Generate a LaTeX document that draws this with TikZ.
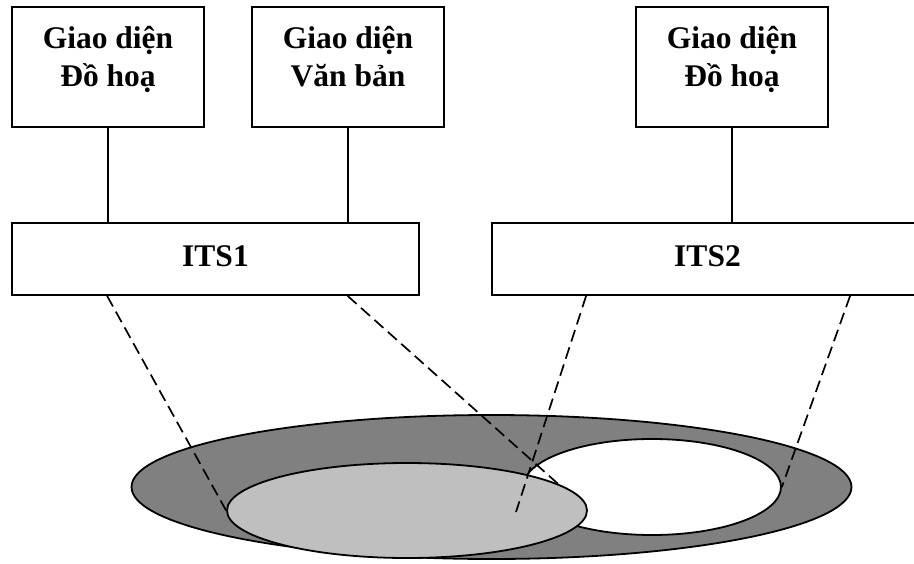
\documentclass[tikz,border=0pt]{standalone}
\usepackage{fontspec}
\setmainfont{Liberation Serif}
\usetikzlibrary{shapes.geometric,calc}
\begin{document}
\begin{tikzpicture}[x=1pt,y=-1pt,
  box/.style={draw,line width=1.8pt,fill=white,rectangle,inner sep=0pt},
  uibox/.style={box,minimum width=192pt,minimum height=120pt},
  itsbox/.style={box,minimum height=72pt},
  lbl/.style={anchor=base,inner sep=0pt,font=\fontsize{31.5}{38}\selectfont\bfseries},
  link/.style={line width=1.8pt},
  proj/.style={line width=1.7pt,dash pattern=on 12pt off 6pt},
  region/.style={draw,line width=1.8pt,ellipse,inner sep=0pt}]
\clip (0,0) rectangle (914,563);
\fill[white] (0,0) rectangle (914,563);

% interface boxes
\node[uibox] (g1) at (108,67) {};
\node[uibox] (g2) at (348,67) {};
\node[uibox] (g3) at (732,67) {};
\node[lbl] (t1) at (108,48) {\begin{tabular}[t]{@{}c@{}}Giao diện\\Đồ hoạ\end{tabular}};
\node[lbl] (t2) at (348,48) {\begin{tabular}[t]{@{}c@{}}Giao diện\\Văn bản\end{tabular}};
\node[lbl] (t3) at (732,48) {\begin{tabular}[t]{@{}c@{}}Giao diện\\Đồ hoạ\end{tabular}};

% tutoring systems
\node[itsbox,minimum width=407pt] (its1) at (215.5,259) {};
\node[itsbox,minimum width=431pt] (its2) at (707.5,259) {};
\node[lbl] (l1) at (215.5,266) {ITS1};
\node[lbl] (l2) at (707.5,266) {ITS2};

% links from interfaces to systems
\draw[link] (g1.south) -- (g1.south |- its1.north);
\draw[link] (g2.south) -- (g2.south |- its1.north);
\draw[link] (g3.south) -- (g3.south |- its2.north);

% knowledge regions
\node[region,fill=black!50,minimum width=720pt,minimum height=144pt] (big) at (491.5,487) {};
\node[region,fill=white,minimum width=258pt,minimum height=96pt] (wht) at (652,487) {};
\node[region,fill=black!25,minimum width=360pt,minimum height=95pt] (lgt) at (407,510.5) {};
\coordinate (inner) at (516,512);

% projections onto the regions
\draw[proj] ([xshift=96pt]its1.south west) -- (lgt.west);
\draw[proj] ([xshift=336.5pt]its1.south west) -- (lgt.10);
\draw[proj] ([xshift=95pt]its2.south west) -- (inner);
\draw[proj] ([xshift=359pt]its2.south west) -- (wht.east);
\end{tikzpicture}
\end{document}
